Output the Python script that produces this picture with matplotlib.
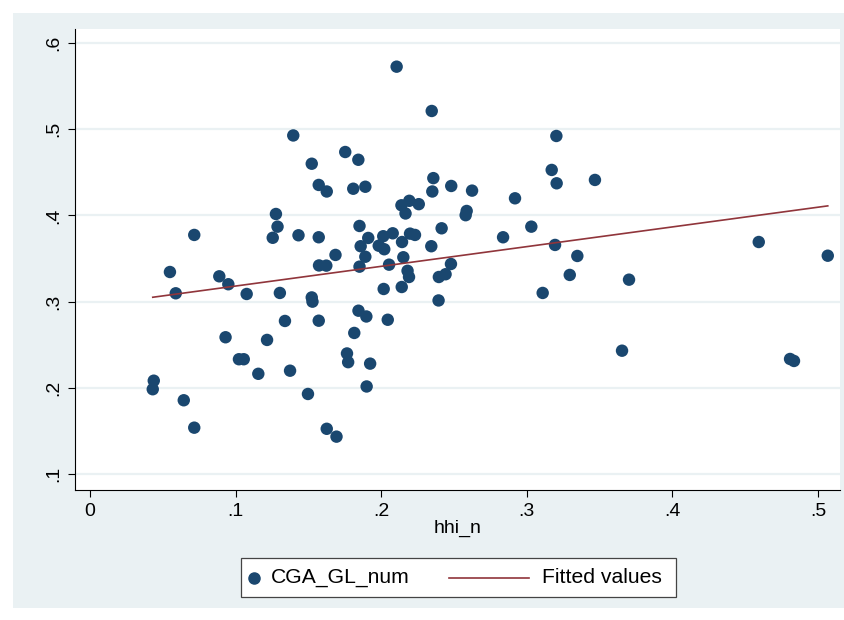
import matplotlib
matplotlib.use("Agg")
import matplotlib.pyplot as plt
from matplotlib.patches import Rectangle
from matplotlib.lines import Line2D

plt.rcParams['font.family'] = ['Liberation Sans', 'DejaVu Sans']

hhi_n = [0.2106, 0.2347, 0.1396, 0.1753, 0.1843, 0.1523, 0.1571, 0.1626, 0.1808, 0.1891,
         0.2358, 0.2351, 0.2481, 0.2624, 0.3203, 0.3171, 0.3205, 0.3468, 0.2919, 0.2139,
         0.2193, 0.2258, 0.2167, 0.2587, 0.2580, 0.1277, 0.1288, 0.1255, 0.1432, 0.0716,
         0.1571, 0.1851, 0.2415, 0.2837, 0.3031, 0.1911, 0.2014, 0.2079, 0.2198, 0.2232,
         0.1859, 0.1983, 0.2021, 0.2143, 0.2344, 0.3194, 0.1686, 0.1891, 0.2152, 0.3347,
         0.4593, 0.5067, 0.1573, 0.1623, 0.1851, 0.2054, 0.2479, 0.2181, 0.2191, 0.2396,
         0.2442, 0.0549, 0.0589, 0.0888, 0.0950, 0.1076, 0.1304, 0.1523, 0.1528, 0.2017,
         0.2141, 0.2394, 0.3295, 0.3702, 0.3109, 0.1844, 0.1898, 0.2045, 0.1339, 0.1571,
         0.1815, 0.0931, 0.1216, 0.1765, 0.1773, 0.1023, 0.1056, 0.1156, 0.1374, 0.1924,
         0.3654, 0.4808, 0.4835, 0.1900, 0.1497, 0.0438, 0.0431, 0.0644, 0.0716, 0.1626,
         0.1693]
cga_gl_num = [0.5725, 0.5211, 0.4927, 0.4735, 0.4645, 0.4599, 0.4353, 0.4277, 0.4309, 0.4332,
              0.4432, 0.4277, 0.4341, 0.4287, 0.4921, 0.4527, 0.4372, 0.4411, 0.4198, 0.4117,
              0.4169, 0.4130, 0.4022, 0.4051, 0.4002, 0.4016, 0.3869, 0.3740, 0.3769, 0.3773,
              0.3746, 0.3877, 0.3850, 0.3746, 0.3869, 0.3738, 0.3758, 0.3792, 0.3788, 0.3773,
              0.3642, 0.3648, 0.3607, 0.3691, 0.3642, 0.3657, 0.3541, 0.3520, 0.3514, 0.3529,
              0.3691, 0.3532, 0.3419, 0.3417, 0.3405, 0.3428, 0.3436, 0.3357, 0.3285, 0.3285,
              0.3317, 0.3343, 0.3096, 0.3293, 0.3201, 0.3088, 0.3100, 0.3048, 0.2999, 0.3146,
              0.3169, 0.3013, 0.3309, 0.3254, 0.3100, 0.2894, 0.2827, 0.2789, 0.2775, 0.2778,
              0.2636, 0.2586, 0.2555, 0.2398, 0.2297, 0.2331, 0.2331, 0.2162, 0.2198, 0.2280,
              0.2430, 0.2334, 0.2311, 0.2015, 0.1928, 0.2082, 0.1983, 0.1855, 0.1537, 0.1524,
              0.1433]

fit_x = [0.0431, 0.5067]
fit_y = [0.305, 0.411]

x_ticks = [0, 0.1, 0.2, 0.3, 0.4, 0.5]
x_tick_labels = ["0", ".1", ".2", ".3", ".4", ".5"]
y_ticks = [0.1, 0.2, 0.3, 0.4, 0.5, 0.6]
y_tick_labels = [".1", ".2", ".3", ".4", ".5", ".6"]
legend_labels = ["CGA_GL_num", "Fitted values"]

navy = "#1A476F"
maroon = "#90353B"
bg = "#EAF1F3"

W, H = 845, 620
fig = plt.figure(figsize=(W / 100, H / 100), dpi=100)
fig.patch.set_facecolor("white")


def fx(px):
    return px / W


def fy(py):
    return 1 - py / H


fig.add_artist(Rectangle((fx(13), fy(608)), 1 - fx(13), (608 - 13) / H,
                         transform=fig.transFigure, facecolor=bg,
                         edgecolor="none", zorder=-10))

L, R, T, B = 75, 840, 29, 490
ax = fig.add_axes([fx(L), fy(B), (R - L) / W, (B - T) / H])
ax.set_facecolor("white")
ax.set_zorder(1)

ax.set_xlim(-0.0103, 0.5151)
ax.set_ylim(0.0814, 0.6162)

for yt in y_ticks:
    ax.axhline(yt, color=bg, lw=1.6, zorder=1)

ax.scatter(hhi_n, cga_gl_num, s=80, color=navy, edgecolors="none", zorder=3)
ax.plot(fit_x, fit_y, color=maroon, lw=1.2, zorder=4)

for s in ["top", "right"]:
    ax.spines[s].set_visible(False)
for s in ["left", "bottom"]:
    ax.spines[s].set_color("black")
    ax.spines[s].set_linewidth(0.8)

ax.set_xticks(x_ticks)
ax.set_xticklabels(x_tick_labels, fontsize=14)
ax.set_yticks(y_ticks)
ax.set_yticklabels(y_tick_labels, fontsize=14, rotation=90, va="center")
ax.tick_params(direction="out", length=5, width=0.8, color="black", pad=4)
ax.set_xlabel("hhi_n", fontsize=14, labelpad=0)

# manual legend box
lx0, lx1, ly0, ly1 = 241, 676, 558, 597
fig.add_artist(Rectangle((fx(lx0), fy(ly1)), (lx1 - lx0) / W, (ly1 - ly0) / H,
                         transform=fig.transFigure, facecolor="white",
                         edgecolor="#444444", lw=0.9, zorder=5))
ymid = (ly0 + ly1) / 2
fig.add_artist(Line2D([fx(254)], [fy(ymid)], marker="o", markersize=8,
                      color=navy, linestyle="none", transform=fig.transFigure,
                      zorder=6))
fig.text(fx(271), fy(ymid), legend_labels[0], fontsize=15.2, va="center",
         ha="left", zorder=6)
fig.add_artist(Line2D([fx(449), fx(529)], [fy(ymid), fy(ymid)], color=maroon,
                      lw=1.2, transform=fig.transFigure, zorder=6))
fig.text(fx(542), fy(ymid), legend_labels[1], fontsize=15.2, va="center",
         ha="left", zorder=6)

fig.savefig("out.png", dpi=100, facecolor=fig.get_facecolor())
